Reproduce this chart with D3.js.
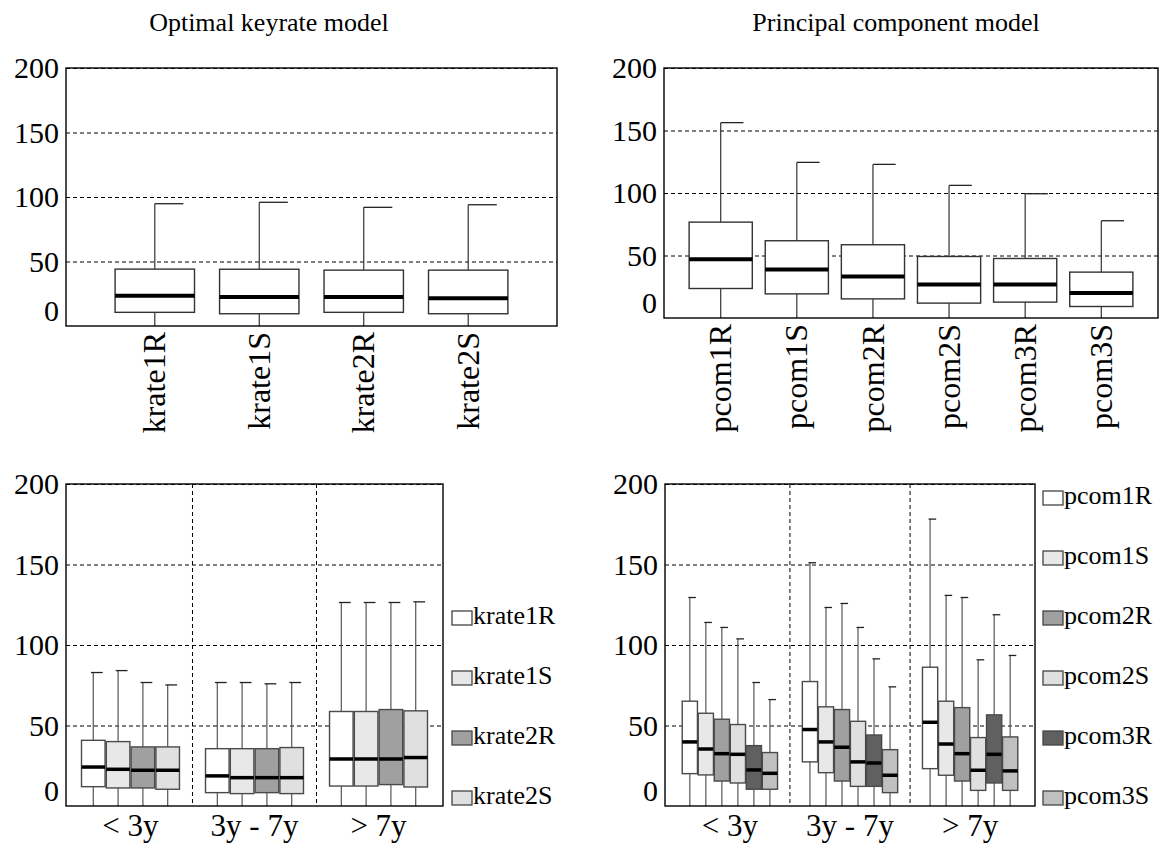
<!DOCTYPE html>
<html>
<head>
<meta charset="utf-8">
<script src="https://cdn.jsdelivr.net/npm/d3@7"></script>
<style>
  body { margin: 0; background: #fff; }
  text { font-family: "Liberation Serif", "Times New Roman", serif; fill: #000; }
</style>
</head>
<body>
<div id="chart"></div>
<script>
// ---- data ----
// each stat row: [lower whisker, q1, median, q3, upper whisker]
var krateNames = ["krate1R", "krate1S", "krate2R", "krate2S"]
var pcomNames = ["pcom1R", "pcom1S", "pcom2R", "pcom2S", "pcom3R", "pcom3S"]
var maturityGroups = ["< 3y", "3y - 7y", "> 7y"]
var yTicks = [0, 50, 100, 150, 200]

var krateOverall = [
  [0, 10.6, 23.5, 44.1, 94.8],
  [0, 9.5, 22.4, 44.0, 95.9],
  [0, 10.6, 22.4, 43.3, 92.0],
  [0, 9.5, 21.6, 43.3, 94.0]
]

var pcomOverall = [
  [0, 23.6, 47.1, 76.7, 156.3],
  [0, 19.3, 38.8, 61.8, 124.5],
  [0, 15.3, 33.2, 58.6, 122.9],
  [0, 11.9, 26.8, 49.2, 106.1],
  [0, 12.7, 26.8, 47.6, 99.4],
  [0, 9.2, 20.1, 36.7, 77.8]
]

// by maturity group, then series
var krateByMaturity = [
  [[0, 12.0, 24.2, 40.8, 82.9], [0, 11.2, 22.8, 40.0, 84.1], [0, 11.2, 22.2, 36.7, 76.7], [0, 10.4, 22.2, 36.7, 75.2]],
  [[0, 8.3, 18.7, 35.6, 76.7], [0, 7.7, 17.6, 35.6, 76.7], [0, 8.3, 17.6, 35.6, 75.9], [0, 7.7, 17.6, 36.3, 76.7]],
  [[0, 12.4, 29.2, 58.7, 126.4], [0, 12.4, 29.2, 58.7, 126.4], [0, 13.3, 29.2, 59.9, 126.4], [0, 11.8, 30.1, 59.1, 126.8]]
]

var pcomByMaturity = [
  [[0, 20.1, 39.8, 65.1, 129.5], [0, 19.3, 35.4, 57.6, 114.0], [0, 15.5, 32.5, 53.9, 110.9],
   [0, 14.3, 32.1, 50.6, 103.8], [0, 10.4, 22.4, 37.5, 76.7], [0, 10.4, 20.3, 33.2, 66.1]],
  [[0, 27.4, 47.5, 77.3, 151.1], [0, 20.7, 39.8, 61.6, 123.3], [0, 15.5, 36.5, 59.9, 125.8],
   [0, 12.2, 27.4, 52.6, 110.9], [0, 12.2, 26.7, 44.1, 91.4], [0, 8.3, 19.1, 35.0, 74.0]],
  [[0, 23.2, 52.0, 86.2, 178.2], [0, 19.1, 38.5, 65.1, 130.8], [0, 15.5, 32.5, 61.1, 129.5],
   [0, 9.7, 22.2, 42.5, 90.8], [0, 14.3, 32.1, 56.6, 118.8], [0, 9.7, 21.8, 42.9, 93.5]]
]

var krateFill = ["#ffffff", "#e8e8e8", "#a0a0a0", "#e0e0e0"]
var pcomFill = ["#ffffff", "#e8e8e8", "#a0a0a0", "#e0e0e0", "#606060", "#c0c0c0"]

// ---- drawing ----
var svg = d3.select("#chart")
  .append("svg")
    .attr("width", 1160)
    .attr("height", 843)

function frameAndGrid (p, y) {
  var g = svg.append("g")
  g.append("g")
    .attr("transform", "translate(" + p.left + ",0)")
    .call(d3.axisLeft(y).tickValues(yTicks).tickSize(-(p.right - p.left)).tickPadding(7).tickFormat(d3.format("d")))
    .call(function (a) {
      a.select(".domain").remove()
      a.selectAll(".tick line")
        .attr("stroke", "#000")
        .attr("stroke-width", 1)
        .attr("stroke-dasharray", "4,3")
        .filter(function (d) { return d == 0 }).remove()
      a.selectAll(".tick text")
        .style("font-family", "'Liberation Serif', serif")
        .style("font-size", "30px")
        .attr("dy", function (d) { return d == 0 ? "-0.2em" : "0.32em" })
    })
  return g
}

function frame (p) {
  svg.append("rect")
    .attr("x", p.left).attr("y", p.top)
    .attr("width", p.right - p.left).attr("height", p.bottom - p.top)
    .attr("fill", "none").attr("stroke", "#000").attr("stroke-width", 1.4)
}

function boxes (g, items, y, o) {
  // items: {x, s, fill}
  var bw = o.bw
  var b = g.append("g").selectAll("g").data(items).enter().append("g")
  b.append("line")
    .attr("x1", function (d) { return d.x }).attr("x2", function (d) { return d.x })
    .attr("y1", function (d) { return y(d.s[0]) }).attr("y2", function (d) { return y(d.s[4]) })
    .attr("stroke", o.whisker).attr("stroke-width", 1.2)
  b.append("line")
    .attr("x1", function (d) { return d.x + o.cap0 * bw }).attr("x2", function (d) { return d.x + o.cap1 * bw })
    .attr("y1", function (d) { return y(d.s[4]) }).attr("y2", function (d) { return y(d.s[4]) })
    .attr("stroke", "#222").attr("stroke-width", 1.3)
  b.append("rect")
    .attr("x", function (d) { return d.x - bw / 2 })
    .attr("y", function (d) { return y(d.s[3]) })
    .attr("width", bw)
    .attr("height", function (d) { return y(d.s[1]) - y(d.s[3]) })
    .attr("fill", function (d) { return d.fill })
    .attr("stroke", o.boxStroke).attr("stroke-width", 1.4)
  b.append("line")
    .attr("x1", function (d) { return d.x - bw / 2 }).attr("x2", function (d) { return d.x + bw / 2 })
    .attr("y1", function (d) { return y(d.s[2]) }).attr("y2", function (d) { return y(d.s[2]) })
    .attr("stroke", "#000").attr("stroke-width", o.medW)
}

// top panels: one box per model
function overallPanel (p, names, stats, pad, widthFrac, title, titleX) {
  var y = d3.scaleLinear().domain([0, 200]).range([p.bottom, p.top])
  var x = d3.scalePoint().domain(names).range([p.left, p.right]).padding(pad)
  var g = frameAndGrid(p, y)
  var items = names.map(function (n, i) { return {x: x(n), s: stats[i], fill: "#fff"} })
  boxes(g, items, y, {bw: x.step() * widthFrac, whisker: "#333", boxStroke: "#333", medW: 4, cap0: 0, cap1: 0.36})
  frame(p)

  g.selectAll(".catlab").data(names).enter().append("text")
    .attr("transform", function (d) { return "translate(" + x(d) + "," + (p.bottom + 6) + ") rotate(-90)" })
    .attr("text-anchor", "end")
    .attr("dy", "0.33em")
    .style("font-size", "32px")
    .text(function (d) { return d })

  svg.append("text")
    .attr("x", titleX)
    .attr("y", 31)
    .attr("text-anchor", "middle")
    .style("font-size", "26px")
    .text(title)
}

// bottom panels: grouped by maturity
function maturityPanel (p, names, stats, fills, groupOffset, outer, legendX) {
  var n = names.length
  var y = d3.scaleLinear().domain([0, 200]).range([p.bottom, p.top])
  var lastPos = (maturityGroups.length - 1) * groupOffset + n
  var x = d3.scaleLinear().domain([1 - outer, lastPos + outer]).range([p.left, p.right])
  var g = frameAndGrid(p, y)

  // vertical separators between groups
  var seps = d3.range(maturityGroups.length - 1).map(function (gi) {
    return (gi * groupOffset + n + (gi + 1) * groupOffset + 1) / 2
  })
  g.selectAll(".sep").data(seps).enter().append("line")
    .attr("x1", function (d) { return x(d) }).attr("x2", function (d) { return x(d) })
    .attr("y1", p.top).attr("y2", p.bottom)
    .attr("stroke", "#000").attr("stroke-width", 1).attr("stroke-dasharray", "4,3")

  var items = []
  stats.forEach(function (grp, gi) {
    grp.forEach(function (s, si) {
      items.push({x: x(gi * groupOffset + si + 1), s: s, fill: fills[si]})
    })
  })
  boxes(g, items, y, {bw: (x(2) - x(1)) * 0.95, whisker: "#555", boxStroke: "#4a4a4a", medW: 3.5, cap0: -0.1, cap1: 0.4})
  frame(p)

  g.selectAll(".grplab").data(maturityGroups).enter().append("text")
    .attr("x", function (d, gi) { return x(gi * groupOffset + (1 + n) / 2) })
    .attr("y", p.bottom + 30)
    .attr("text-anchor", "middle")
    .style("font-size", "31px")
    .text(function (d) { return d })

  // legend, stacked from the bottom of the panel
  var leg = g.selectAll(".leg").data(names).enter().append("g")
    .attr("transform", function (d, i) { return "translate(" + legendX + "," + (p.bottom - 15 - 60 * (n - 1 - i)) + ")" })
  leg.append("rect")
    .attr("width", 20).attr("height", 14)
    .attr("fill", function (d, i) { return fills[i] })
    .attr("stroke", "#444").attr("stroke-width", 1.3)
  leg.append("text")
    .attr("x", 21).attr("y", 13)
    .style("font-size", "26px")
    .text(function (d) { return d })
}

overallPanel({left: 66, right: 557, top: 68, bottom: 326}, krateNames, krateOverall, 0.85, 0.76, "Optimal keyrate model", 269)
overallPanel({left: 664, right: 1158, top: 68, bottom: 318}, pcomNames, pcomOverall, 0.745, 0.83, "Principal component model", 896)
maturityPanel({left: 66, right: 443, top: 484, bottom: 806}, krateNames, krateByMaturity, krateFill, 5, 1.1, 452)
maturityPanel({left: 665, right: 1035, top: 484, bottom: 806}, pcomNames, pcomByMaturity, pcomFill, 7.5, 1.55, 1043)
</script>
</body>
</html>
